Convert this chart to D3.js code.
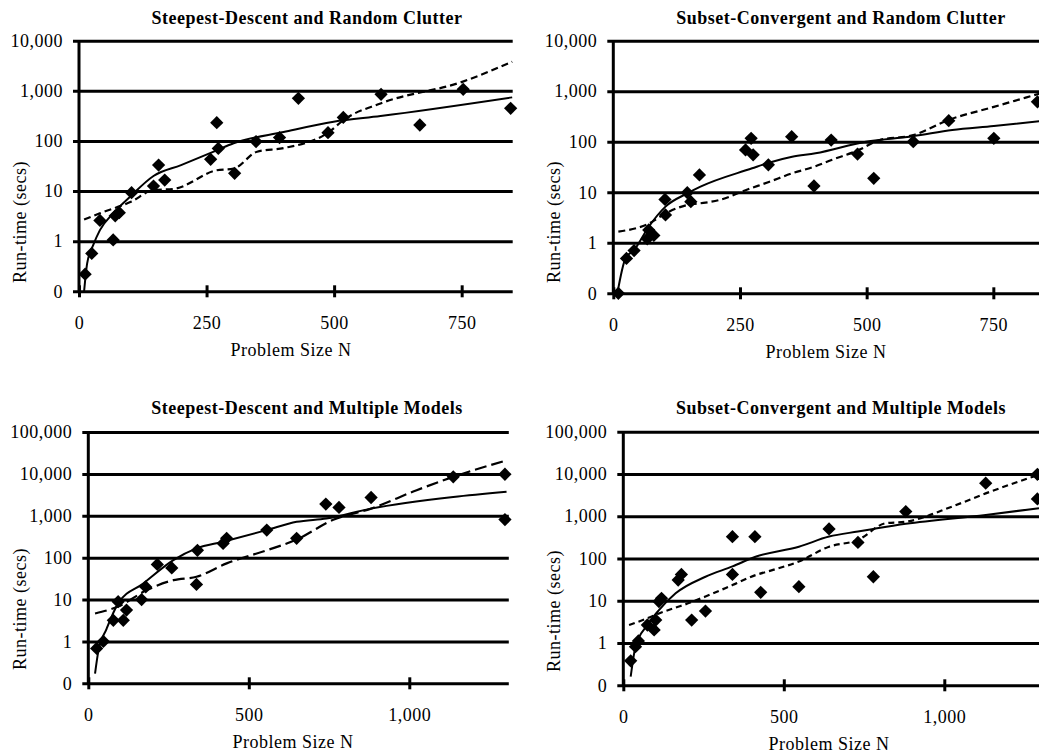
<!DOCTYPE html>
<html><head><meta charset="utf-8">
<script src="https://cdn.jsdelivr.net/npm/d3@7"></script>
<style>
body{margin:0;background:#fff}
svg text{font-family:"Liberation Serif","Times New Roman",serif;fill:#000}
</style>
</head><body>
<svg id="chart" width="1039" height="753"></svg>
<script>
// ---------------- DATA ----------------
const panelTitles = [
  "Steepest-Descent and Random Clutter",
  "Subset-Convergent and Random Clutter",
  "Steepest-Descent and Multiple Models",
  "Subset-Convergent and Multiple Models"
];
const xAxisTitle = "Problem Size N";
const yAxisTitle = "Run-time (secs)";

const xTicksTop = [0, 250, 500, 750];
const xTickLabelsTop = ["0", "250", "500", "750"];
const xTicksBottom = [0, 500, 1000];
const xTickLabelsBottom = ["0", "500", "1,000"];
const yTicksTop = [0.1, 1, 10, 100, 1000, 10000];
const yTickLabelsTop = ["0", "1", "10", "100", "1,000", "10,000"];
const yTicksBottom = [0.1, 1, 10, 100, 1000, 10000, 100000];
const yTickLabelsBottom = ["0", "1", "10", "100", "1,000", "10,000", "100,000"];

// Panel 1: Steepest-Descent and Random Clutter
const p1N = [12, 25, 41, 67, 71, 79, 103, 146, 156, 168, 258, 270, 273, 305, 347, 393, 430, 488, 518, 592, 668, 753, 846];
const p1T = [0.22, 0.57, 2.6, 1.06, 3.2, 3.7, 9.3, 12.6, 33, 16.6, 43, 231, 71, 22.6, 97, 117, 708, 146, 295, 851, 208, 1070, 447];
const p1SolidN = [10, 16, 28, 41, 67, 100, 146, 200, 264, 303, 401, 499, 591, 849];
const p1SolidT = [0.1, 0.36, 0.84, 1.66, 3.6, 7.7, 20, 33, 61, 90, 151, 242, 314, 740];
const p1DashN = [10, 41, 103, 146, 185, 270, 303, 349, 401, 490, 519, 591, 751, 849];
const p1DashT = [2.7, 3.6, 6.2, 10.5, 11, 26, 28, 61, 72, 151, 264, 560, 1510, 3800];

// Panel 2: Subset-Convergent and Random Clutter
const p2N = [10, 26, 41, 67, 70, 80, 102, 103, 146, 153, 170, 261, 272, 276, 306, 352, 396, 430, 482, 514, 592, 662, 751, 837];
const p2T = [0.1, 0.49, 0.70, 1.2, 1.8, 1.4, 7.2, 3.55, 9.8, 6.5, 22, 69, 117, 55, 35, 126, 13.3, 108, 57, 18.9, 100, 261, 117, 616];
const p2SolidN = [8, 24, 41, 70, 103, 146, 172, 274, 307, 353, 399, 498, 592, 669, 751, 850];
const p2SolidT = [0.1, 0.49, 0.72, 2.08, 5.2, 9.5, 12.9, 29.8, 38.5, 50.6, 59, 100, 129, 170, 204, 262];
const p2DashN = [10, 70, 103, 146, 169, 209, 261, 307, 353, 396, 432, 485, 524, 592, 662, 751, 850];
const p2DashT = [1.66, 2.4, 3.8, 5.6, 6.0, 7.0, 11, 16, 23.7, 32, 44, 69, 107, 135, 270, 490, 950];

// Panel 3: Steepest-Descent and Multiple Models
const p3N = [26, 47, 78, 93, 109, 119, 166, 179, 215, 260, 337, 340, 420, 431, 556, 649, 740, 781, 881, 1137, 1298, 1298];
const p3T = [0.68, 1.0, 3.2, 8.9, 3.2, 5.6, 10, 20, 69, 57, 23, 150, 218, 290, 456, 290, 1900, 1580, 2730, 8500, 9800, 810];
const p3SolidN = [21, 31, 57, 93, 171, 265, 337, 420, 556, 649, 742, 881, 1137, 1303];
const p3SolidT = [0.17, 0.57, 2.0, 8.1, 24, 87, 166, 240, 456, 716, 860, 1480, 2800, 3730];
const p3DashN = [21, 93, 182, 265, 337, 431, 556, 649, 763, 881, 1023, 1137, 1303];
const p3DashT = [4.65, 6.8, 16.8, 29, 35, 73, 150, 270, 800, 1480, 4080, 8500, 21000];

// Panel 4: Subset-Convergent and Multiple Models
const p4N = [23, 38, 47, 75, 96, 101, 111, 119, 171, 181, 213, 256, 340, 340, 410, 428, 547, 641, 731, 779, 880, 1129, 1290, 1290];
const p4T = [0.38, 0.82, 1.12, 2.67, 2.04, 3.5, 9.6, 11.4, 31, 42, 3.5, 5.7, 329, 42, 329, 15.8, 21.6, 500, 240, 37, 1290, 6040, 9800, 2560];
const p4SolidN = [23, 38, 75, 111, 163, 256, 340, 412, 547, 641, 731, 779, 880, 1129, 1295];
const p4SolidT = [0.16, 0.82, 2.67, 6, 15, 37, 65, 110, 190, 330, 435, 500, 660, 1070, 1550];
const p4DashN = [18, 75, 111, 171, 189, 256, 340, 412, 464, 547, 641, 731, 817, 880, 1025, 1129, 1295];
const p4DashT = [2.67, 3.85, 5.0, 7.2, 8, 12.6, 23.5, 40.5, 53, 85, 190, 275, 680, 740, 1700, 3470, 9600];

// ---------------- LAYOUT ----------------
const panels = [
  { title: panelTitles[0], n: p1N, t: p1T, sN: p1SolidN, sT: p1SolidT, dN: p1DashN, dT: p1DashT,
    xTicks: xTicksTop, xLabels: xTickLabelsTop, yTicks: yTicksTop, yLabels: yTickLabelsTop,
    xMax: 850, yMax: 1e4, x0: 79, x1: 512.7, yTop: 40.7, yBot: 291.3, dash: "7,4",
    titlePos: [307, 18], yTitlePos: [20, 222], xTitlePos: [291, 350] },
  { title: panelTitles[1], n: p2N, t: p2T, sN: p2SolidN, sT: p2SolidT, dN: p2DashN, dT: p2DashT,
    xTicks: xTicksTop, xLabels: xTickLabelsTop, yTicks: yTicksTop, yLabels: yTickLabelsTop,
    xMax: 850, yMax: 1e4, x0: 613.3, x1: 1044, yTop: 40.7, yBot: 293.3, dash: "7,4",
    titlePos: [841, 18], yTitlePos: [554, 222], xTitlePos: [826, 352] },
  { title: panelTitles[2], n: p3N, t: p3T, sN: p3SolidN, sT: p3SolidT, dN: p3DashN, dT: p3DashT,
    xTicks: xTicksBottom, xLabels: xTickLabelsBottom, yTicks: yTicksBottom, yLabels: yTickLabelsBottom,
    xMax: 1310, yMax: 1e5, x0: 88.3, x1: 508.8, yTop: 432, yBot: 683.3, dash: "12,5",
    titlePos: [307, 408], yTitlePos: [20, 609], xTitlePos: [293, 742] },
  { title: panelTitles[3], n: p4N, t: p4T, sN: p4SolidN, sT: p4SolidT, dN: p4DashN, dT: p4DashT,
    xTicks: xTicksBottom, xLabels: xTickLabelsBottom, yTicks: yTicksBottom, yLabels: yTickLabelsBottom,
    xMax: 1310, yMax: 1e5, x0: 623.3, x1: 1043.8, yTop: 431.7, yBot: 685.3, dash: "6,4",
    titlePos: [841, 408], yTitlePos: [554, 611], xTitlePos: [829, 744] }
];

const svg = d3.select("#chart");
const FONT = '"Liberation Serif","Times New Roman",serif';
const FS = 18;
const LS = "0.5px";

panels.forEach(p => {
  const g = svg.append("g");
  const x = d3.scaleLinear().domain([0, p.xMax]).range([p.x0, p.x1]);
  const y = d3.scaleLog().domain([0.1, p.yMax]).range([p.yBot, p.yTop]);

  // Y axis with gridlines
  g.append("g")
    .attr("transform", `translate(${p.x0},0)`)
    .call(d3.axisLeft(y).tickValues(p.yTicks).tickFormat((d, i) => p.yLabels[i])
      .tickSize(-(p.x1 - p.x0)).tickPadding(16))
    .call(a => a.select(".domain").remove())
    .call(a => a.selectAll(".tick line").attr("x1", -6).attr("stroke", "#000").attr("stroke-width", 3))
    .call(a => a.selectAll(".tick text").attr("font-family", FONT).attr("font-size", FS)
      .attr("letter-spacing", LS).attr("fill", "#000"));

  // X axis ticks
  g.append("g")
    .attr("transform", `translate(0,${p.yBot})`)
    .call(d3.axisBottom(x).tickValues(p.xTicks).tickFormat((d, i) => p.xLabels[i])
      .tickSize(6).tickPadding(19))
    .call(a => a.select(".domain").remove())
    .call(a => a.selectAll(".tick line").attr("y1", -6).attr("stroke", "#000").attr("stroke-width", 3))
    .call(a => a.selectAll(".tick text").attr("font-family", FONT).attr("font-size", FS)
      .attr("letter-spacing", LS).attr("fill", "#000"));

  // Y axis line
  g.append("line")
    .attr("x1", x(0)).attr("x2", x(0))
    .attr("y1", y(p.yMax)).attr("y2", y(0.1))
    .attr("stroke", "#000").attr("stroke-width", 3);

  const line = d3.line().x(d => x(d[0])).y(d => y(d[1])).curve(d3.curveMonotoneX);

  // Solid fit line
  g.append("path")
    .datum(p.sN.map((v, i) => [v, p.sT[i]]))
    .attr("d", line).attr("fill", "none").attr("stroke", "#000").attr("stroke-width", 2);

  // Dashed fit line
  g.append("path")
    .datum(p.dN.map((v, i) => [v, p.dT[i]]))
    .attr("d", line).attr("fill", "none").attr("stroke", "#000").attr("stroke-width", 2.2)
    .attr("stroke-dasharray", p.dash);

  // Diamonds
  const sym = d3.symbol(d3.symbolSquare, 88);
  g.append("g").selectAll("path")
    .data(p.n.map((v, i) => [v, p.t[i]]))
    .join("path")
    .attr("d", sym)
    .attr("transform", d => `translate(${x(d[0])},${y(d[1])}) rotate(45)`)
    .attr("fill", "#000");

  // Titles
  g.append("text")
    .attr("x", p.titlePos[0]).attr("y", p.titlePos[1]).attr("dy", "0.35em")
    .attr("text-anchor", "middle").attr("font-size", FS).attr("font-weight", "bold")
    .attr("letter-spacing", LS)
    .text(p.title);

  g.append("text")
    .attr("x", p.xTitlePos[0]).attr("y", p.xTitlePos[1]).attr("dy", "0.35em")
    .attr("text-anchor", "middle").attr("font-size", FS).attr("letter-spacing", LS)
    .text(xAxisTitle);

  g.append("text")
    .attr("transform", `translate(${p.yTitlePos[0]},${p.yTitlePos[1]}) rotate(-90)`)
    .attr("dy", "0.35em")
    .attr("text-anchor", "middle").attr("font-size", FS).attr("letter-spacing", LS)
    .text(yAxisTitle);
});
</script>
</body></html>
